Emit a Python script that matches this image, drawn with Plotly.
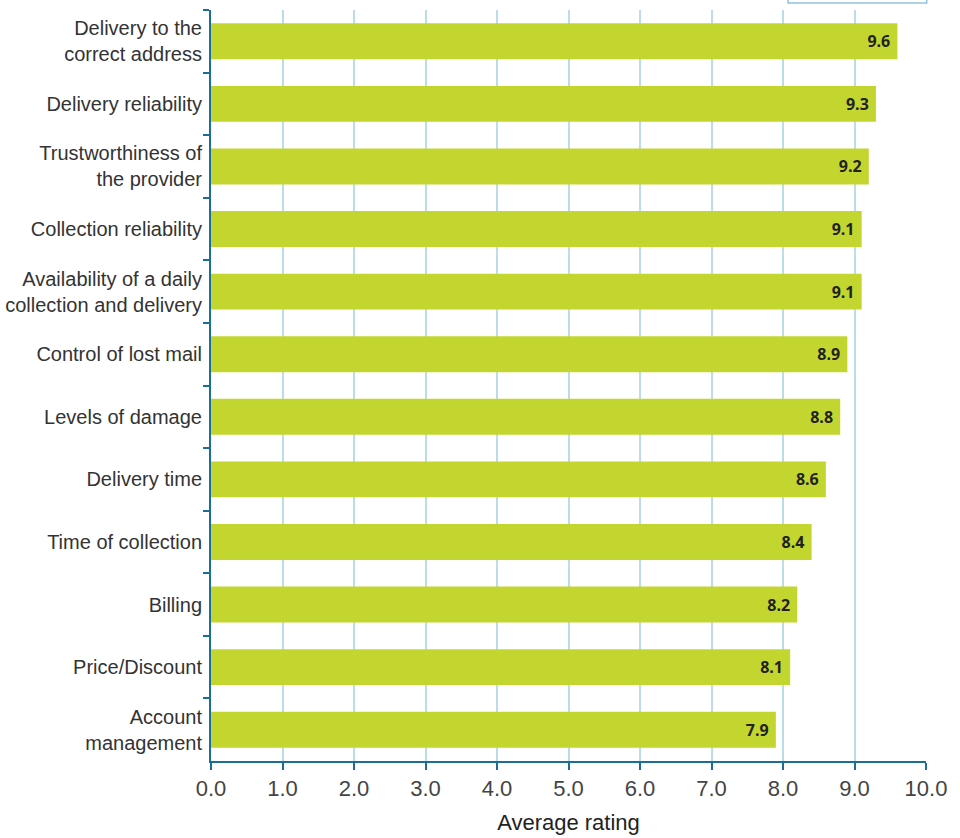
import plotly.graph_objects as go

categories = [
    "Delivery to the<br>correct address",
    "Delivery reliability",
    "Trustworthiness of<br>the provider",
    "Collection reliability",
    "Availability of a daily<br>collection and delivery",
    "Control of lost mail",
    "Levels of damage",
    "Delivery time",
    "Time of collection",
    "Billing",
    "Price/Discount",
    "Account<br>management",
]
values = [9.6, 9.3, 9.2, 9.1, 9.1, 8.9, 8.8, 8.6, 8.4, 8.2, 8.1, 7.9]
x_ticks = [0, 1, 2, 3, 4, 5, 6, 7, 8, 9, 10]
x_tick_labels = [f"{v:.1f}" for v in x_ticks]

axis_col = "#1b6e95"
grid_col = "#bcdcea"
label_font = "Liberation Sans"

fig = go.Figure(go.Bar(
    x=values,
    y=categories,
    orientation="h",
    marker=dict(color="#c3d630", line=dict(width=0)),
    width=0.575,
    text=[f"{v:.1f}\u00a0" for v in values],
    textposition="inside",
    insidetextanchor="end",
    textfont=dict(family="Open Sans", size=16, color="#222222", weight="bold"),
    cliponaxis=False,
))

fig.update_layout(
    width=960, height=838,
    margin=dict(l=211, r=34, t=10, b=77),
    paper_bgcolor="white", plot_bgcolor="white",
    font=dict(family=label_font, color="#333333"),
    showlegend=False,
    shapes=[dict(type="rect", xref="paper", yref="paper",
                 x0=0.807, x1=1.001, y0=1.0093, y1=1.05,
                 line=dict(color="#8ec5dd", width=1.5), fillcolor="rgba(0,0,0,0)")],
)
fig.update_xaxes(
    range=[0, 10],
    tickvals=x_ticks, ticktext=x_tick_labels,
    showgrid=True, gridcolor=grid_col, gridwidth=1.5,
    zeroline=False,
    showline=True, linecolor=axis_col, linewidth=2,
    ticks="outside", ticklen=7, tickcolor=axis_col, tickwidth=2,
    tickfont=dict(size=22, color="#444444", family=label_font),
    title=dict(text="Average rating", font=dict(size=22, color="#222222", family=label_font), standoff=14),
    automargin=False,
)
fig.update_yaxes(
    autorange="reversed",
    categoryorder="array", categoryarray=categories,
    showgrid=False, zeroline=False,
    showline=True, linecolor=axis_col, linewidth=2,
    ticks="outside", ticklen=6, tickcolor=axis_col, tickwidth=2,
    tickson="boundaries",
    tickfont=dict(size=20, color="#333333", family=label_font),
    ticklabelstandoff=3,
    automargin=False,
)

fig.write_html("out.html")
